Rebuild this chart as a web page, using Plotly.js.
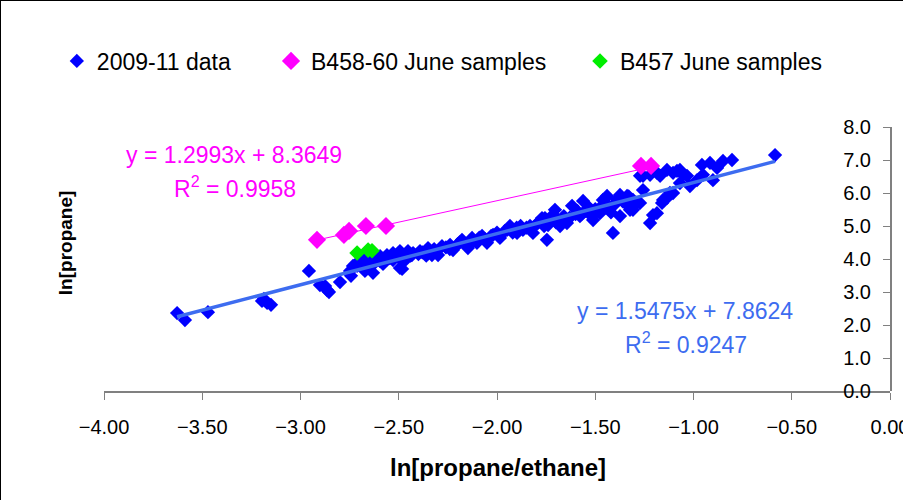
<!DOCTYPE html>
<html>
<head>
<meta charset="utf-8">
<script src="https://cdn.plot.ly/plotly-3.0.1.min.js"></script>
<style>
html,body{margin:0;padding:0;background:#fff;}
#wrap{position:relative;width:903px;height:500px;}
#chart{width:903px;height:500px;}
#frame{position:absolute;left:0;top:0;width:903px;height:500px;box-sizing:border-box;border-left:1px solid #000;border-top:1px solid #000;pointer-events:none;}
</style>
</head>
<body>
<div id="wrap"><div id="chart"></div><div id="frame"></div></div>
<script>
// 2009-11 data: ln[propane/ethane] (x) vs ln[propane] (y)
const dataX = [-3.628,-3.588,-3.471,-3.196,-3.186,-3.170,-3.150,-2.957,-2.901,-2.875,-2.865,-2.855,-2.799,-2.748,-2.743,-2.733,
  -2.712,-2.656,-2.631,-2.672,-2.595,-2.545,-2.494,-2.529,-2.458,-2.427,-2.712,-2.682,-2.656,-2.595,-2.560,-2.529,-2.494,-2.483,
  -2.453,-2.433,-2.392,-2.351,-2.331,-2.300,-2.280,-2.239,-2.224,-2.178,-2.148,-2.127,-2.102,-2.076,-2.051,-2.020,-1.985,-1.949,
  -1.934,-1.898,-1.868,-1.832,-1.817,-1.771,-1.746,-1.740,-1.705,-1.618,-1.410,-1.221,-1.206,-1.756,-1.562,-1.440,-1.374,-1.461,
  -1.476,-1.511,-1.578,-1.644,-1.679,-1.308,-1.272,-1.170,-1.104,-1.069,-1.186,-1.155,-1.120,-1.069,-1.033,-1.272,-1.323,-1.374,
  -1.338,-1.160,-1.135,-1.104,-1.257,-1.221,-1.186,-1.135,-1.084,-1.053,-1.018,-0.982,-0.952,-0.957,-0.916,-0.880,-0.850,-0.804,
  -0.901,-1.257,-1.288,-1.308,-0.585,-1.60,-1.55,-1.50,-1.45,-1.40,-1.35,-1.65,-1.70,-1.52,-1.42,-1.90,-2.00,-2.20,-2.40,-1.80,
  -2.62,-2.58,-2.50,-2.47,-2.44,-2.38,-2.36,-2.32,-2.26,-2.24,-2.19,-2.16,-2.12,-2.09,-2.06,-2.03,-1.96,-1.92,-1.88,-1.85,
  -1.79,-1.76,-1.73,-1.69,-1.66,-1.63,-1.59,-1.57,-1.53,-1.49,-1.46,-1.43,-1.39,-1.36,-1.33];
const dataY = [2.36,2.15,2.39,2.73,2.79,2.67,2.61,3.64,3.21,3.18,3.06,3.00,3.30,3.64,3.49,3.79,
  3.79,4.09,3.58,3.64,3.94,4.03,3.73,3.97,4.12,4.18,3.88,3.97,3.82,4.09,4.12,4.18,4.24,3.70,
  4.24,4.12,4.24,4.33,4.12,4.12,4.39,4.43,4.27,4.58,4.33,4.64,4.49,4.70,4.49,4.73,4.64,4.88,
  5.00,4.79,4.88,5.00,4.79,5.24,4.58,5.03,5.49,5.61,4.79,5.09,5.33,5.24,5.76,5.91,5.94,5.79,
  5.39,5.18,5.30,5.09,5.00,5.79,6.52,6.52,6.61,6.70,5.39,5.79,6.00,6.30,6.52,5.70,5.49,5.30,
  5.91,5.70,5.85,6.00,6.52,6.55,6.61,6.70,6.67,6.55,6.21,6.39,6.55,6.85,6.91,6.76,6.97,7.00,
  6.39,6.09,5.70,5.49,7.15,5.36,5.46,5.51,5.56,5.66,5.71,5.21,5.11,5.31,5.41,4.95,4.80,4.45,4.15,5.05,
  3.90,3.85,4.05,3.95,4.10,4.20,4.10,4.30,4.35,4.30,4.50,4.45,4.55,4.65,4.60,4.70,4.85,4.80,5.00,4.95,
  5.10,5.00,5.25,5.20,5.30,5.25,5.45,5.35,5.55,5.45,5.65,5.60,5.80,5.75,5.90];

// B458-60 June samples
const b458X = [-2.916,-2.779,-2.753,-2.667,-2.565,-1.267,-1.216];
const b458Y = [4.58,4.73,4.85,5.00,5.00,6.82,6.82];

// B457 June samples
const b457X = [-2.712,-2.656,-2.636];
const b457Y = [4.18,4.27,4.25];

// Linear trendline coefficients (from the chart)
const fitData = {slope: 1.5475, intercept: 7.8624, r2: 0.9247};
const fitB458 = {slope: 1.2993, intercept: 8.3649, r2: 0.9958};

function trend(xs, fit){
  const x0 = Math.min(...xs), x1 = Math.max(...xs);
  return {x:[x0,x1], y:[fit.slope*x0+fit.intercept, fit.slope*x1+fit.intercept]};
}
const tData = trend(dataX, fitData);
const tB458 = trend(b458X, fitB458);

const FONT = 'Liberation Sans, Arial, sans-serif';
const BLUE_LINE = '#3D6CF0';

const traces = [
  {x:dataX, y:dataY, type:'scatter', mode:'markers', name:'2009-11 data',
   marker:{symbol:'diamond', size:11, color:'#0000FF'}, legend:'legend'},
  {x:tData.x, y:tData.y, type:'scatter', mode:'lines', showlegend:false,
   line:{color:BLUE_LINE, width:3.5}},
  {x:tB458.x, y:tB458.y, type:'scatter', mode:'lines', showlegend:false,
   line:{color:'#FF00FF', width:1}},
  {x:b458X, y:b458Y, type:'scatter', mode:'markers', name:'B458-60 June samples',
   marker:{symbol:'diamond', size:14, color:'#FF00FF'}, legend:'legend2'},
  {x:b457X, y:b457Y, type:'scatter', mode:'markers', name:'B457 June samples',
   marker:{symbol:'diamond', size:12, color:'#00EE00'}, legend:'legend3'}
];

const legendBase = {orientation:'h', yanchor:'middle', y:1.25, bgcolor:'rgba(0,0,0,0)',
  font:{family:FONT, size:23, color:'#000'}, itemwidth:30, tracegroupgap:0};

function ann(x, y, text, color, size, extra){
  return Object.assign({xref:'paper', yref:'paper', x:x, y:y, text:text, showarrow:false,
    xanchor:'center', yanchor:'middle', font:{family:FONT, size:size, color:color}}, extra||{});
}

const layout = {
  width:903, height:500,
  margin:{l:104, r:13, t:127, b:109},
  paper_bgcolor:'#fff', plot_bgcolor:'#fff',
  font:{family:FONT, size:21, color:'#000'},
  xaxis:{range:[-4,0], dtick:0.5, tick0:-4, tickformat:'.2f', showgrid:false, zeroline:false,
    showline:true, linecolor:'#808080', linewidth:1.5, ticks:'outside', ticklen:7, tickcolor:'#808080',
    tickfont:{family:FONT, size:20}, ticklabelstandoff:10, ticklabeloverflow:'allow'},
  yaxis:{range:[0,8], dtick:1, tick0:0, tickformat:'.1f', anchor:'free', position:1, side:'left',
    showgrid:false, zeroline:false,
    showline:true, linecolor:'#808080', linewidth:1.5, ticks:'outside', ticklen:7, tickcolor:'#808080',
    tickfont:{family:FONT, size:20}, ticklabelstandoff:8, ticklabeloverflow:'allow'},
  showlegend:true,
  legend:Object.assign({}, legendBase, {x:-0.060}),
  legend2:Object.assign({}, legendBase, {x:0.2125}),
  legend3:Object.assign({}, legendBase, {x:0.6056}),
  annotations:[
    ann(0.1654, 0.894, 'y = 1.2993x + 8.3649', '#FF00FF', 23),
    ann(0.1667, 0.773, 'R<sup>2</sup> = 0.9958', '#FF00FF', 23),
    ann(0.739, 0.303, 'y = 1.5475x + 7.8624', BLUE_LINE, 23),
    ann(0.740, 0.182, 'R<sup>2</sup> = 0.9247', BLUE_LINE, 23),
    ann(-0.0496, 0.56, '<b>ln[propane]</b>', '#000', 19, {textangle:-90}),
    ann(0.501, -0.288, '<b>ln[propane/ethane]</b>', '#000', 24)
  ]
};

Plotly.newPlot('chart', traces, layout, {displayModeBar:false, staticPlot:true});
</script>
</body>
</html>
